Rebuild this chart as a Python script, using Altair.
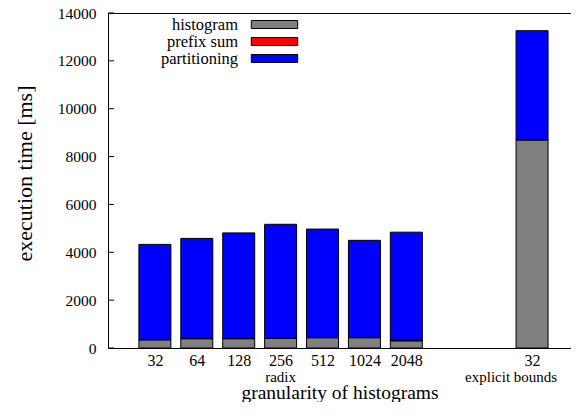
import altair as alt
import pandas as pd

# ---- data ----
radix_labels = ["32", "64", "128", "256", "512", "1024", "2048"]
explicit_labels = ["32"]
group_labels = ["radix", "explicit bounds"]
series = ["histogram", "prefix sum", "partitioning"]
colors = ["#808080", "#ff0000", "#0000ff"]

radix_histogram = [345, 390, 390, 400, 430, 430, 300]
radix_prefix = [5, 5, 5, 10, 10, 15, 30]
radix_partitioning = [3980, 4185, 4415, 4760, 4530, 4055, 4510]

explicit_histogram = [8700]
explicit_prefix = [0]
explicit_partitioning = [4560]

y_ticks = [0, 2000, 4000, 6000, 8000, 10000, 12000, 14000]

# ---- build table ----
rows = []
radix_slots = list(range(len(radix_labels)))
explicit_slots = [len(radix_labels) + 2 + i for i in range(len(explicit_labels))]
for slots, h, p, q in [
    (radix_slots, radix_histogram, radix_prefix, radix_partitioning),
    (explicit_slots, explicit_histogram, explicit_prefix, explicit_partitioning),
]:
    for i, s in enumerate(slots):
        for k, (name, vals) in enumerate(zip(series, [h, p, q])):
            rows.append({"slot": s, "series": name, "value": vals[i], "order": k})
df = pd.DataFrame(rows)

# group captions centred on each histogram group (gnuplot style, incl. the gap)
group_df = pd.DataFrame({
    "slot": [
        (radix_slots[0] + radix_slots[-1]) / 2,
        (explicit_slots[0] - 1 + explicit_slots[-1]) / 2,
    ],
    "label": group_labels,
})

# axis tick labels
label_map = {}
for s, lab in zip(radix_slots, radix_labels):
    label_map[s] = lab
for s, lab in zip(explicit_slots, explicit_labels):
    label_map[s] = lab
expr = "''"
for s in sorted(label_map, reverse=True):
    expr = f"datum.value == {s} ? '{label_map[s]}' : ({expr})"

all_slots = radix_slots + explicit_slots
# the right border of the original plot lies just outside the picture
x_domain = [-1, 9.81]

FONT = "Liberation Serif"
x_scale = alt.Scale(domain=x_domain, nice=False, zero=False)

bars = alt.Chart(df).mark_bar(size=32, stroke="black", strokeWidth=1).encode(
    x=alt.X(
        "slot:Q",
        scale=x_scale,
        axis=alt.Axis(
            values=all_slots,
            labelExpr=expr,
            title="granularity of histograms",
            ticks=False,
            domain=True,
            domainColor="black",
            domainWidth=1,
            grid=False,
            labelFontSize=16,
            labelPadding=4,
            labelColor="black",
            labelFont=FONT,
            titleFontSize=19.5,
            titleFontWeight="normal",
            titlePadding=15,
            titleColor="black",
            titleFont=FONT,
        ),
    ),
    y=alt.Y(
        "value:Q",
        stack="zero",
        scale=alt.Scale(domain=[0, 14000], nice=False),
        axis=alt.Axis(
            values=y_ticks,
            format="d",
            title="execution time [ms]",
            ticks=False,
            domain=True,
            domainColor="black",
            domainWidth=1,
            grid=False,
            labelFontSize=15.5,
            labelPadding=12,
            labelColor="black",
            labelFont=FONT,
            titleFontSize=22,
            titleFontWeight="normal",
            titleColor="black",
            titleFont=FONT,
            titleX=-84,
            titleY=160,
            titleBaseline="middle",
        ),
    ),
    color=alt.Color(
        "series:N",
        scale=alt.Scale(domain=series, range=colors),
        legend=alt.Legend(
            title=None,
            orient="none",
            legendX=158,
            legendY=3,
            direction="vertical",
            symbolType="M-2.9,-0.5H2.9V0.5H-2.9Z",
            symbolSize=256,
            symbolStrokeColor="black",
            symbolStrokeWidth=1,
            symbolOpacity=1,
            labelFontSize=16.5,
            labelFont=FONT,
            labelColor="black",
            labelAlign="right",
            labelOffset={"expr": "-45"},
            rowPadding=0,
            padding=0,
        ),
    ),
    order=alt.Order("order:Q"),
)

ticks = alt.Chart(pd.DataFrame({"value": y_ticks})).mark_rule(color="black", strokeWidth=1).encode(
    y=alt.Y("value:Q"),
    x=alt.value(0),
    x2=alt.value(6),
)

groups = alt.Chart(group_df).mark_text(
    fontSize=15, font=FONT, color="black", baseline="middle", align="center"
).encode(
    x=alt.X(
        "slot:Q",
        scale=x_scale,
        axis=alt.Axis(
            orient="top", labels=False, ticks=False, grid=False, title=None,
            domain=True, domainColor="black", domainWidth=1,
        ),
    ),
    y=alt.value(364),
    text="label:N",
)

chart = (
    alt.layer(bars, ticks, groups)
    .resolve_axis(x="independent")
    .properties(
        width=463,
        height=335,
        autosize=alt.AutoSizeParams(type="none"),
        padding={"left": 100, "top": 5, "right": 0, "bottom": 54},
    )
    .configure(font=FONT)
    .configure_view(stroke=None)
    .configure_axis(labelFont=FONT, titleFont=FONT)
    .configure_legend(labelFont=FONT)
)

chart.save("out.html", embed_options={"renderer": "svg", "actions": False})
